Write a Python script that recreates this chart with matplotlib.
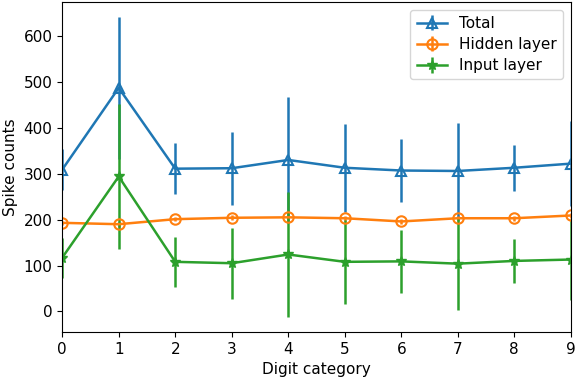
import numpy as np
import matplotlib as mpl
mpl.use('Agg')
from matplotlib import pyplot as plt

digits = np.arange(10)

total_mean = [309, 487, 311, 312, 330, 313, 307, 306, 313, 322]
total_err = [45, 154, 56, 80, 137, 96, 69, 105, 50, 92]

hidden_mean = [193, 190, 201, 204, 205, 203, 196, 203, 203, 209]
hidden_err = [5, 5, 5, 5, 5, 5, 5, 5, 5, 5]

input_mean = [117, 294, 108, 105, 124, 108, 109, 104, 110, 113]
input_err = [44, 158, 55, 77, 136, 92, 68, 102, 48, 89]

plt.rcParams['font.size'] = 11

fig, ax = plt.subplots(figsize=(5.76, 3.78), dpi=100)
ax.errorbar(digits, total_mean, yerr=total_err, color='#1f77b4', marker='^',
            fillstyle='none', markersize=6.5, markeredgewidth=1.5, linewidth=1.8,
            label='Total')
ax.errorbar(digits, hidden_mean, yerr=hidden_err, color='#ff7f0e', marker='o',
            fillstyle='none', markersize=7.5, markeredgewidth=1.5, linewidth=1.8,
            label='Hidden layer')
ax.errorbar(digits, input_mean, yerr=input_err, color='#2ca02c', marker='*',
            markersize=7, linewidth=1.8, label='Input layer')
ax.set_xlim(0, 9)
ax.set_xticks(digits)
ax.set_xlabel('Digit category')
ax.set_ylabel('Spike counts')
ax.legend(loc='upper right', labelspacing=0.4)
fig.subplots_adjust(left=0.108, right=0.991, top=0.994, bottom=0.122)
plt.savefig('out.png')
